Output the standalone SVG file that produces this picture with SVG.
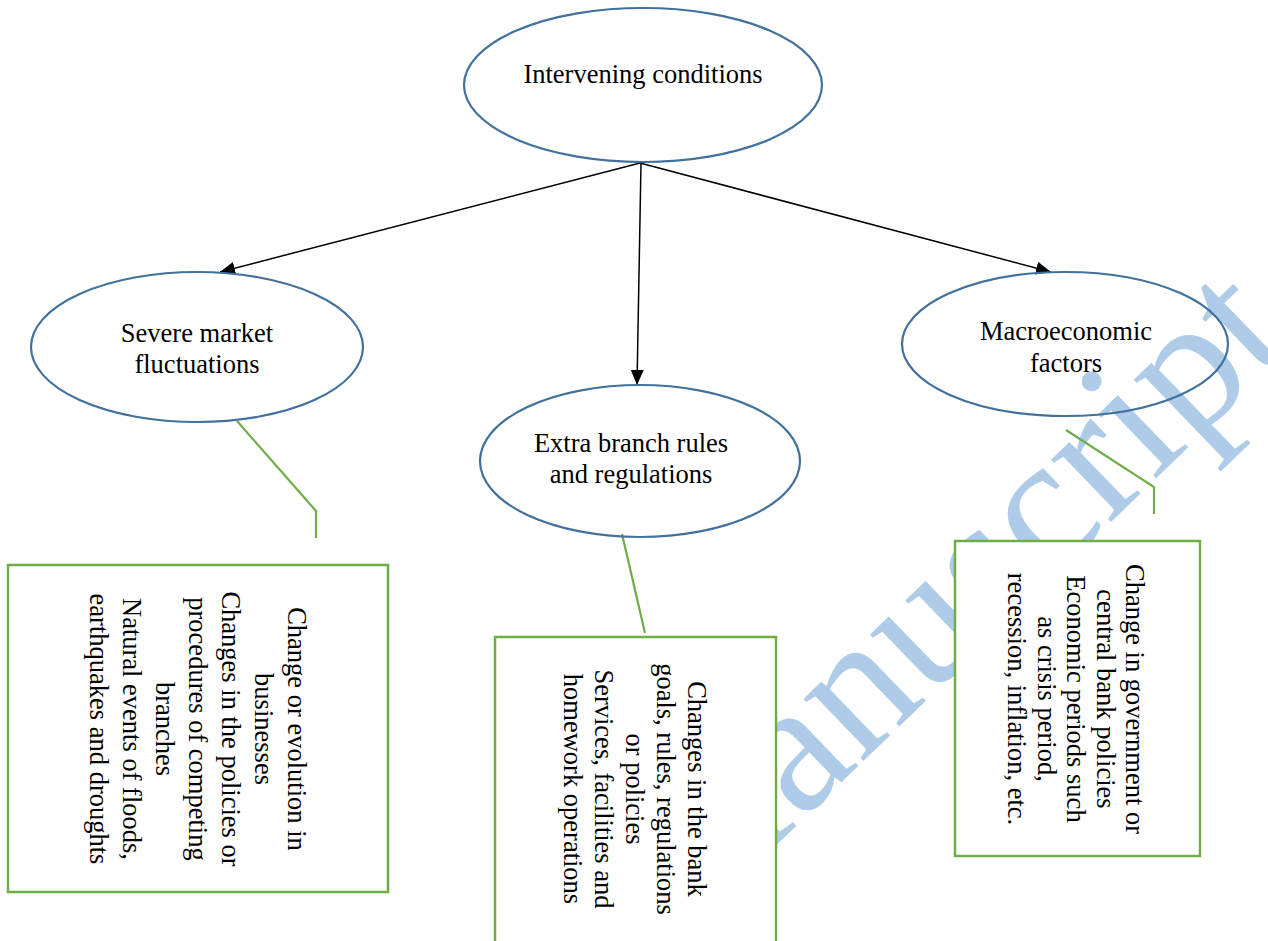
<svg xmlns="http://www.w3.org/2000/svg" width="1268" height="941" viewBox="0 0 1268 941">
  <style>
    .oval { fill: none; stroke: #41719c; stroke-width: 2.2; }
    .box { fill: #ffffff; stroke: #70ad47; stroke-width: 2.5; }
    .lead { fill: none; stroke: #70ad47; stroke-width: 2.2; }
    .arrow { fill: none; stroke: #000000; stroke-width: 1.5; marker-end: url(#head); }
    .lbl { font-family: "Liberation Serif", "Times New Roman", serif; font-size: 26.5px; fill: #000000; text-anchor: middle; }
    .wm { font-family: "Liberation Serif", "Times New Roman", serif; font-size: 188px; fill: #aecbe8; }
  </style>
  <defs>
    <marker id="head" markerUnits="userSpaceOnUse" markerWidth="16" markerHeight="14" refX="15" refY="6.5" orient="auto">
      <path d="M0,0 L15,6.5 L0,13 Z" fill="#000000"/>
    </marker>
  </defs>
  <rect x="0" y="0" width="1268" height="941" fill="#ffffff"/>

  <!-- background stamp -->
  <text class="wm" transform="translate(680,938) rotate(-44)">Manuscript</text>

  <!-- connectors -->
  <g id="connectors">
    <line class="arrow" x1="640" y1="163" x2="220" y2="272"/>
    <line class="arrow" x1="641" y1="163" x2="637" y2="385"/>
    <line class="arrow" x1="640" y1="163" x2="1051" y2="272"/>
    <polyline class="lead" points="237,421 316,511 316,538"/>
    <line class="lead" x1="622" y1="534" x2="645" y2="633"/>
    <polyline class="lead" points="1066,430 1154,487 1154,514"/>
  </g>

  <g id="intervening-conditions">
    <ellipse class="oval" cx="643" cy="85" rx="179" ry="77"/>
    <text class="lbl" x="643" y="83">Intervening conditions</text>
  </g>

  <g id="severe-market-fluctuations">
    <ellipse class="oval" cx="197" cy="347" rx="166" ry="75"/>
    <text class="lbl" x="197" y="342">Severe market</text>
    <text class="lbl" x="197" y="373">fluctuations</text>
  </g>

  <g id="extra-branch-rules">
    <ellipse class="oval" cx="640" cy="461" rx="160" ry="76"/>
    <text class="lbl" x="631" y="452">Extra branch rules</text>
    <text class="lbl" x="631" y="483">and regulations</text>
  </g>

  <g id="macroeconomic-factors">
    <ellipse class="oval" cx="1065" cy="344" rx="163" ry="72"/>
    <text class="lbl" x="1066" y="340">Macroeconomic</text>
    <text class="lbl" x="1066" y="372">factors</text>
  </g>

  <g id="market-details">
    <rect class="box" x="8" y="565" width="380" height="327"/>
    <g transform="translate(198,729) rotate(90)">
      <text class="lbl" x="0" y="-90">Change or evolution in</text>
      <text class="lbl" x="0" y="-57">businesses</text>
      <text class="lbl" x="0" y="-24">Changes in the policies or</text>
      <text class="lbl" x="0" y="9">procedures of competing</text>
      <text class="lbl" x="0" y="42">branches</text>
      <text class="lbl" x="0" y="75">Natural events of floods,</text>
      <text class="lbl" x="0" y="108">earthquakes and droughts</text>
    </g>
  </g>

  <g id="branch-details">
    <rect class="box" x="495" y="637" width="281" height="320"/>
    <g transform="translate(636,789) rotate(90)">
      <text class="lbl" x="0" y="-52">Changes in the bank</text>
      <text class="lbl" x="0" y="-21">goals, rules, regulations</text>
      <text class="lbl" x="0" y="10">or policies</text>
      <text class="lbl" x="0" y="41">Services, facilities and</text>
      <text class="lbl" x="0" y="72">homework operations</text>
    </g>
  </g>

  <g id="macro-details">
    <rect class="box" x="955" y="541" width="245" height="315"/>
    <g transform="translate(1077.5,699) rotate(90)">
      <text class="lbl" x="0" y="-48.5">Change in government or</text>
      <text class="lbl" x="0" y="-19">central bank policies</text>
      <text class="lbl" x="0" y="10.5">Economic periods such</text>
      <text class="lbl" x="0" y="40">as crisis period,</text>
      <text class="lbl" x="0" y="69.5">recession, inflation, etc.</text>
    </g>
  </g>
</svg>
